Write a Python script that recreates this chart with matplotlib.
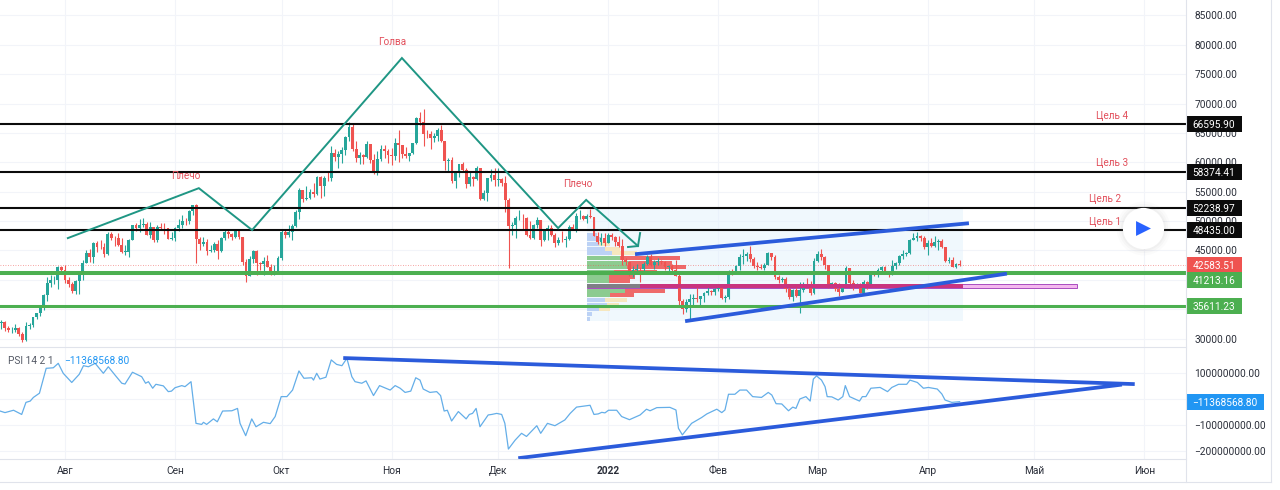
import matplotlib
matplotlib.use("Agg")
import matplotlib.pyplot as plt
from matplotlib.lines import Line2D
from matplotlib.patches import Rectangle
import pandas as pd

plt.rcParams['font.family'] = ['Roboto', 'DejaVu Sans']

W, H = 1280, 490
ORIGIN = pd.Timestamp('2021-08-01')
FIRST_CANDLE = pd.Timestamp('2021-07-13')

first_open = 33100
close_jul = [32700,32820,31780,31400,31530,31800,30840,29790,32140,32310,33580,34290,35350,37340,39400,40000,40010,42240,41630]
close_aug = [39970,39200,38150,39740,40870,42830,44630,43820,46280,45600,45570,44430,47820,47100,47050,46000,44800,44800,46720,49320,48870,49320,49500,47700,48950,46850,49070,48900,48800,47020,47160]
close_sep = [48850,49280,49940,49930,51790,52660,46860,46070,46400,44850,45150,46060,44960,47090,48150,47770,47300,48300,47260,43000,40700,43570,44880,42830,42700,43170,42200,41030,41520,43790]
close_oct = [48140,47630,48200,49220,51470,55320,53800,53970,54960,54690,57480,56000,57370,57350,61670,60880,61500,62040,64280,66000,62210,60690,61300,60850,63080,60330,58450,60590,62270,61890,61320]
close_nov = [61000,63220,62970,61450,61000,61530,63300,67550,66940,64900,64810,64150,64400,65500,63600,60160,60370,56900,58100,59700,58700,56300,57570,57170,58960,53730,54700,57270,57800,56950]
close_dec = [57200,56500,53600,49200,49400,50580,50600,50500,47670,47200,49400,50100,46700,48340,48900,47650,46200,46850,46700,46900,49000,48600,50800,50800,50400,50800,50700,47540,46470,47120,46200]
close_jan = [47700,47300,46430,45830,43430,43080,41550,41680,41860,41820,42730,43900,42590,43090,43180,43110,42250,42370,41660,40680,36450,35030,36280,36650,36950,36810,37160,37710,38170,37920,38480]
close_feb = [38740,36950,37070,41570,41380,42410,43840,44040,44390,43510,42380,42210,42050,42540,44540,43870,40510,39970,40080,38350,37000,38250,37260,38330,39210,39100,37700,43160]
close_mar = [44420,43920,42450,39140,39400,38400,37990,38730,41960,39430,38730,38810,37790,39670,39280,41110,40920,41750,42200,41270,41000,42370,42900,43990,44310,44510,46820,47120,47430,47060,45530]
close_apr = [46280,45800,46400,46580,45500,43170,43440,42250,42750,42583.51]

high_jul = [33300,33100,32900,32200,31900,32400,31900,31100,32800,32600,33600,34400,35400,37500,40500,40900,40600,42300,42400]
high_aug = [42600,40400,39700,39900,41300,43300,45000,45300,46400,46600,46700,46200,48100,48100,47400,47900,47100,45900,47000,49300,49700,50400,50500,49800,49800,49000,49400,49600,49600,48900,48200]
high_sep = [49000,50300,51000,50500,51900,52800,52900,47300,47300,47000,45900,46400,46800,47300,48400,48400,47900,48700,48300,47300,43600,44000,45000,45000,43000,43900,44300,42700,42600,44100]
high_oct = [48400,48500,49300,49500,51900,55700,55300,56000,55400,56400,57700,57600,57700,58500,62800,62300,62000,62600,64400,66900,66600,63700,61700,61400,63700,63200,61400,62000,62900,62900,62300]
high_nov = [62400,64200,65500,63000,62600,61600,63300,67700,68500,69000,65500,65400,65000,65900,66300,63400,60700,60900,58400,59800,60000,59000,58600,57700,59300,59100,55300,57400,58800,59100]
high_dec = [59000,57400,57600,53900,49800,50900,51900,51200,50700,50000,49500,50700,50200,48500,49400,49400,47900,47300,48300,47500,49300,49500,51300,51800,51000,51200,52000,50700,48100,47900,47900]
high_jan = [47900,47900,47500,47500,47000,43700,43100,42300,42700,42200,43000,44200,44400,43400,43700,43400,43200,42600,42700,43400,41000,36800,36800,37500,37500,38900,37200,38000,38700,38300,38600]
high_feb = [39200,38900,37400,41700,41900,42600,44400,45300,44700,45700,43900,43000,42700,42800,44700,44500,44200,40900,40400,40400,39200,38400,39200,39700,39600,40300,39800,43700]
high_mar = [44900,45300,44000,42500,39600,39600,39400,39300,42300,42000,40000,39400,39400,39900,39800,41400,41400,42000,42300,42300,41500,43300,43000,44200,45000,44700,46900,48000,48100,47600,47500]
high_apr = [46700,47200,47400,46900,47000,45500,43900,43900,42800,43400]

low_jul = [32300,31700,31200,31100,31000,31100,30500,29400,29500,31600,32000,33400,33900,34900,36400,38800,39300,38400,41000]
low_aug = [39500,38700,37700,37600,37500,39900,42800,43000,42900,44800,45300,43900,44200,46700,45700,45700,44500,44200,43900,46700,48300,48100,49000,47600,47200,46400,46500,48400,47800,46900,46800]
low_sep = [46600,48300,48800,49400,49500,51100,42900,45000,45700,44200,44700,44800,43500,44800,46700,47100,46800,47100,46900,42500,39700,40600,42900,40900,41700,40800,42100,40900,40800,41300]
low_oct = [43300,47100,47300,46800,49000,50400,53300,53600,53700,54100,54500,53900,54300,56900,56900,60200,59000,59900,61300,63600,62000,60000,59800,59700,60700,59900,58000,57900,60200,60800,59900]
low_nov = [59500,60400,60100,60700,60800,60200,61400,63200,66300,62800,64100,62300,63500,63700,63400,58700,58500,56500,55700,57500,58500,55700,55900,55900,57000,53600,53600,53400,56800,55900]
low_dec = [56000,55900,51600,42000,47700,47200,50100,48700,47400,46900,46900,48800,45800,46600,46700,47500,45500,45900,46500,45600,46700,48500,48100,50400,50200,49700,50500,47400,46100,46000,45800]
low_jan = [46200,46700,45700,45500,42600,42500,40700,40500,41200,39700,41300,42500,42300,41800,42600,42700,41600,41300,41100,40700,35700,34100,34600,32900,35700,36300,35600,36200,37400,37400,37400]
low_feb = [38100,36700,36300,36800,40900,41100,41700,42700,43200,43100,42000,41700,41800,41600,42500,43400,40100,39500,39700,38000,36800,36400,37100,34300,38000,38600,37400,37500]
low_mar = [43000,43400,41900,38600,38700,38100,37200,37900,38700,38600,38300,38700,37700,37600,38500,39000,40600,40500,41500,41000,40500,40900,41900,42600,43600,44100,44400,46700,46600,46600,45200]
low_apr = [44200,45600,45500,45100,45400,43000,42800,42100,42000,42400]

psi_days = [-18.3,-16.9,-14.5,-12.2,-11,-9.8,-8.9,-7.2,-5.3,-3.3,-1.9,-0.5,1.9,4,5.2,6.6,8.5,10.8,12.2,14.1,16,16.9,19,21.6,22.7,23.5,24.7,25.6,27.7,29.1,30,31,32.9,33.8,35.5,36.9,38.5,39,39.9,41.8,42.9,44.4,47,48.6,49.3,50.9,52.6,53.8,55.9,57.8,59.2,60.9,62.5,64.1,65.9,67.3,69.5,70,70.9,71.8,73.5,75,76.5,78,79.4,80.8,81.7,83.6,84.8,86.9,88.6,91.6,93,94.4,95.8,97.4,98.8,
 100,100.9,102.8,104.7,105.8,106.8,107.7,108.9,110.8,113,113.9,114.8,115.8,116.9,119.2,120.2,121.6,123,123.9,124.9,126.8,128.6,130,132.9,134,135.9,138,140.8,142.3,144.1,147.9,149,150.2,151.2,152.1,153.1,155.4,156.8,159,162,163.8,164.8,166.7,170.4,172.1,172.8,173.9,176.5,179.3,180.8,183.6,185,185.9,186.9,188.7,190.1,192,193.7,196.2,198.1,199.1,200.3,201.9,203.8,205,205.9,207,208.7,209.9,210.8,211.7,213.1,214.1,214.7,216,
 217.8,219.1,219.8,221,222.5,223.8,224.6,225.6,227,229.6,231.7,232.9,234.8,237.1,238,240.1,241.8,243.2,245.7,247,247.9,249.8,252]
psi_millions = [-47,-53,-44,-60,-14,-9,5,21,116,118,135,97,62,93,126,122,135,97,122,90,59,56,101,84,59,65,40,55,49,27,29,42,50,46,65,-94,-98,-90,-98,-77,-88,-47,-46,-37,-94,-141,-77,-107,-90,-95,-68,8,8,33,106,78,80,71,97,75,82,148,131,126,154,84,65,59,68,12,50,33,50,40,24,29,80,
 71,37,24,27,12,-47,-44,-85,-49,-77,-60,-56,-37,-107,-62,-60,-56,-60,-94,-192,-158,-132,-144,-103,-132,-94,-103,-81,-56,-32,-25,-60,-58,-52,-54,-44,-44,-68,-80,-62,-40,-46,-34,-33,-43,-113,-138,-94,-72,-58,-40,-53,-43,17,17,33,33,8,5,24,14,-19,-20,-46,-32,-37,-1,8,-9,75,87,71,46,8,7,
 -5,8,50,8,-1,-9,8,8,40,43,27,43,55,55,71,62,40,43,37,18,-5,-14,-11.37]

month_labels = ['Авг','Сен','Окт','Ноя','Дек','2022','Фев','Мар','Апр','Май','Июн']
month_dates = ['2021-08-01','2021-09-01','2021-10-01','2021-11-01','2021-12-01','2022-01-01','2022-02-01','2022-03-01','2022-04-01','2022-05-01','2022-06-01']
price_ticks = [30000,35000,40000,45000,50000,55000,60000,65000,70000,75000,80000,85000]
price_tick_labels = ['30000.00','','','45000.00','50000.00','55000.00','60000.00','65000.00','70000.00','75000.00','80000.00','85000.00']
psi_ticks = [-200e6,-100e6,0,100e6]
psi_tick_labels = ['−200000000.00','−100000000.00','','100000000.00']

targets = [66595.90,58374.41,52238.97,48435.00]
supports = [41213.16,35611.23]
last_price = 42583.51
last_psi = -11368568.80

pattern_days = [0.8,37.7,52.7,94.9,138.9,146.8,161.4]
pattern_prices = [47100,55600,48470,77760,48800,53600,45750]
arrow_days = [162,161.4,158.6]
arrow_prices = [47960,45750,45580]
upper_days, upper_prices = [161.1,254.1],[44390,49600]
lower_days, lower_prices = [175.2,264.8],[33000,41000]
psi_top_days, psi_top_vals = [78.9,300.8],[155e6,56e6]
psi_bot_days, psi_bot_vals = [128.2,297.2],[-226e6,53e6]

vp_up = [30,45,35,55,75,100,125,120,80,65,65,160,115,70,55,60,35,15,10]
vp_down = [0,0,33,45,75,180,130,178,130,80,63,0,120,70,65,35,33,0,0]
vp_top_price = 48100
vp_row_price = 795
vp_start_day, vp_end_day = 147, 253
vp_box_prices = (33000, 52240)
poc_prices = (38650, 39250)
poc_end_day = 285

notes = [('Голва',92.1,80490),('Плечо',34.1,57670),('Плечо',144.5,56300),
         ('Цель 4',294.9,67890),('Цель 3',294.9,59880),('Цель 2',293,53750),('Цель 1',293,49840)]

UP, DOWN = '#26a69a', '#ef5350'
TEAL, BLUE = '#1f9684', '#2b5bdb'
GREEN, GRID, EDGE, TXT = '#4caf50', '#f2f4f9', '#e0e3eb', '#2a2e39'
NOTE = '#e2505c'
FS = 7.3

closes = close_jul+close_aug+close_sep+close_oct+close_nov+close_dec+close_jan+close_feb+close_mar+close_apr
highs = high_jul+high_aug+high_sep+high_oct+high_nov+high_dec+high_jan+high_feb+high_mar+high_apr
lows = low_jul+low_aug+low_sep+low_oct+low_nov+low_dec+low_jan+low_feb+low_mar+low_apr
opens = [first_open]+closes[:-1]
start = (FIRST_CANDLE-ORIGIN).days
days = [start+i for i in range(len(closes))]
month_days = [(pd.Timestamp(d)-ORIGIN).days for d in month_dates]

fig = plt.figure(figsize=(W/100, H/100), dpi=100, facecolor='white')
ax = fig.add_axes([0, 1-347/H, 1186/W, 347/H])
ax2 = fig.add_axes([0, 1-459/H, 1186/W, 112/H])
XLIM = (-18.31, 315.77)

for a in (ax, ax2):
    a.set_xlim(*XLIM)
    a.set_xticks(month_days)
    a.grid(True, color=GRID, lw=0.8)
    a.set_axisbelow(True)
    a.yaxis.tick_right()
    a.tick_params(axis='both', length=0, labelsize=FS, labelcolor=TXT)
    a.tick_params(axis='y', pad=6)
    for s in a.spines.values():
        s.set_visible(False)

ax.set_ylim(28556, 87639)
ax.set_yticks(price_ticks)
ax.set_yticklabels(price_tick_labels)
ax.tick_params(axis='x', labelbottom=False)

ax2.set_ylim(-230e6, 197.3e6)
ax2.set_yticks(psi_ticks)
ax2.set_yticklabels(psi_tick_labels)
ax2.set_xticklabels(month_labels)
ax2.tick_params(axis='x', pad=5)
for lab, name in zip(ax2.get_xticklabels(), month_labels):
    if name == '2022':
        lab.set_fontweight('bold')

# volume-profile background and rows
ax.barh((vp_box_prices[0]+vp_box_prices[1])/2, vp_end_day-vp_start_day,
        height=vp_box_prices[1]-vp_box_prices[0], left=vp_start_day,
        color='#e3f2fd', alpha=0.5, zorder=1)
POC_ROW = 11
ROW_DAYS = 1/10.65
for i, (u, d) in enumerate(zip(vp_up, vp_down)):
    y = vp_top_price-(i+0.5)*vp_row_price
    inside = 5 <= i <= 13
    cu = '#8ccb90' if inside else '#bcd2f5'
    cd = '#ee6a6a' if inside else '#f6e7bf'
    if i == POC_ROW:
        cu = '#7f7f86'
    ax.barh(y, u*ROW_DAYS, height=vp_row_price*0.86, left=vp_start_day, color=cu, zorder=2)
    if d:
        ax.barh(y, d*ROW_DAYS, height=vp_row_price*0.86, left=vp_start_day+u*ROW_DAYS, color=cd, zorder=2)

# point-of-control band
poc_mid = sum(poc_prices)/2
poc_h = poc_prices[1]-poc_prices[0]
ax.barh(poc_mid, poc_end_day-vp_start_day, height=poc_h, left=vp_start_day,
        facecolor='#f4b8ee', edgecolor='#a94cc0', lw=0.7, zorder=1.5)
band_left = vp_start_day+vp_up[POC_ROW]*ROW_DAYS
ax.barh(poc_mid, vp_end_day-band_left, height=poc_h, left=band_left, color='#c9347f', zorder=4.2)

# candles
for x, o, h, l, c in zip(days, opens, highs, lows, closes):
    col = UP if c >= o else DOWN
    ax.vlines(x, l, h, color=col, lw=0.8, zorder=3)
    ax.bar(x, abs(c-o) or 40, bottom=min(o, c), width=0.8, color=col, lw=0, zorder=3)

# levels
for t in targets:
    ax.axhline(t, color='#0b0b0b', lw=1.5, zorder=4)
ax.axhline(supports[0], color=GREEN, lw=2.9, zorder=4)
ax.axhline(supports[1], color=GREEN, lw=2.2, zorder=4)
ax.axhline(last_price, color=DOWN, lw=0.6, ls=(0, (1, 2)), alpha=0.7, zorder=2.5)

# drawings
ax.plot(pattern_days, pattern_prices, color=TEAL, lw=1.4, zorder=4.5, solid_joinstyle='miter')
ax.plot(arrow_days, arrow_prices, color=TEAL, lw=1.4, zorder=4.5)
ax.plot(upper_days, upper_prices, color=BLUE, lw=2.7, zorder=4.6)
ax.plot(lower_days, lower_prices, color=BLUE, lw=2.7, zorder=4.6)

for label, d, p in notes:
    ax.text(d, p, label, color=NOTE, fontsize=7.2, ha='center', va='center', zorder=5)

# play button
PLAY = (303.7, 48820)
for s, al in [(1500, 0.03), (1250, 0.04), (1050, 0.05)]:
    ax.scatter(*PLAY, s=s, color='#888888', alpha=al, lw=0, zorder=5.5)
ax.scatter(*PLAY, s=880, color='white', lw=0, zorder=5.6)
ax.scatter(*PLAY, s=115, marker='>', color='#2962ff', lw=0, zorder=5.7)

# price labels on scale
def scale_label(a, y, text, color, height, width=56):
    tr = a.get_yaxis_transform()
    x0 = 1.0
    w = width/1186
    a.add_patch(Rectangle((x0, y-height/2), w, height, transform=tr, facecolor=color,
                          edgecolor='none', clip_on=False, zorder=6))
    a.text(x0+w/2, y, text, transform=tr, color='white', fontsize=FS, ha='center',
           va='center_baseline', clip_on=False, zorder=7)

PH = 16/0.005873
for t in targets:
    scale_label(ax, t, f'{t:.2f}', '#0b0b0b', PH)
scale_label(ax, last_price, f'{last_price:.2f}', DOWN, PH)
scale_label(ax, 39900, f'{supports[0]:.2f}', GREEN, PH)
scale_label(ax, supports[1], f'{supports[1]:.2f}', GREEN, PH)

# lower pane
ax2.plot(psi_days, [v*1e6 for v in psi_millions], color='#64aee8', lw=0.9, zorder=3)
ax2.plot(psi_top_days, psi_top_vals, color=BLUE, lw=2.7, zorder=4, clip_on=False)
ax2.plot(psi_bot_days, psi_bot_vals, color=BLUE, lw=2.7, zorder=4)
scale_label(ax2, last_psi, f'−{abs(last_psi):.2f}', '#2196f3', 16/0.262*1e6, width=78)
ax2.text(8/1186, 1-14/112, 'PSI 14 2 1', transform=ax2.transAxes, color='#555a66', fontsize=FS, va='center')
ax2.text(64/1186, 1-14/112, f'−{abs(last_psi):.2f}', transform=ax2.transAxes, color='#2196f3', fontsize=FS, va='center')

# pane frame
def rule(x0, y0, x1, y1):
    fig.add_artist(Line2D([x0/W, x1/W], [1-y0/H, 1-y1/H], color=EDGE, lw=0.8))
rule(0, 347, 1186, 347)
rule(0, 459, 1186, 459)
rule(1186, 0, 1186, 482)
rule(0, 482, 1271, 482)
rule(1271, 0, 1271, 482)

fig.savefig('out.png', dpi=100)
